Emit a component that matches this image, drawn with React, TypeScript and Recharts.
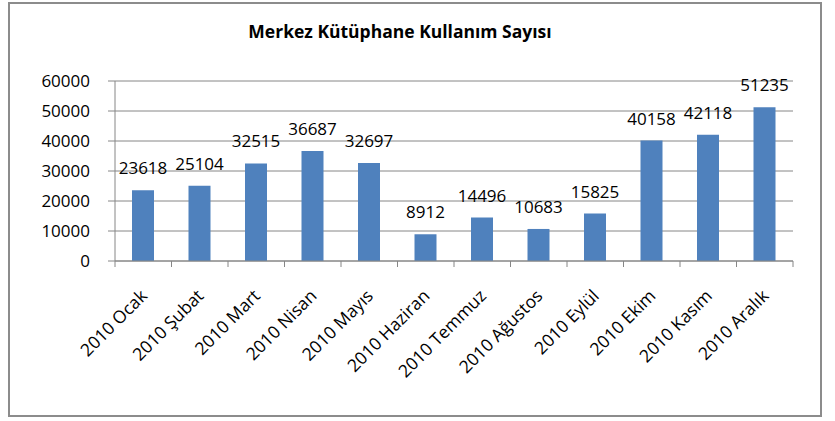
import React from 'react';
import { BarChart, Bar, XAxis, YAxis, CartesianGrid, LabelList } from 'recharts';

const categories = [
  '2010 Ocak', '2010 Şubat', '2010 Mart', '2010 Nisan', '2010 Mayıs', '2010 Haziran',
  '2010 Temmuz', '2010 Ağustos', '2010 Eylül', '2010 Ekim', '2010 Kasım', '2010 Aralık',
];
const usage = [23618, 25104, 32515, 36687, 32697, 8912, 14496, 10683, 15825, 40158, 42118, 51235];
const yTicks = [0, 10000, 20000, 30000, 40000, 50000, 60000];
const title = 'Merkez Kütüphane Kullanım Sayısı';

const data = categories.map((name, i) => ({ name, value: usage[i] }));

const FONT = '"Open Sans", sans-serif';
const AXIS_COLOR = '#868686';

const XTick = (props: any) => {
  const { x, y, payload, index } = props;
  const half = payload && typeof payload.offset === 'number' && payload.offset > 0 ? payload.offset : 28;
  const isLast = index === categories.length - 1;
  const ax = x + 5;
  const ay = y + 36;
  return (
    <g>
      <line x1={x - half} x2={x - half} y1={y} y2={y + 6} stroke={AXIS_COLOR} strokeWidth={1} />
      {isLast && <line x1={x + half} x2={x + half} y1={y} y2={y + 6} stroke={AXIS_COLOR} strokeWidth={1} />}
      <text
        x={ax}
        y={ay}
        transform={`rotate(-45, ${ax}, ${ay})`}
        textAnchor="end"
        fontSize={17.5}
        fontFamily={FONT}
        fill="#000"
      >
        {payload.value}
      </text>
    </g>
  );
};

export default function App() {
  return (
    <div style={{ position: 'absolute', left: 0, top: 0, width: 835, height: 421, background: '#fff' }}>
      <div
        style={{
          position: 'absolute',
          left: 8,
          top: 2,
          width: 814,
          height: 415,
          border: '2px solid #8c8c8c',
          boxSizing: 'border-box',
        }}
      />
      <div
        style={{
          position: 'absolute',
          left: 150,
          top: 19,
          width: 500,
          textAlign: 'center',
          fontFamily: FONT,
          fontWeight: 700,
          fontSize: 17.5,
          lineHeight: '24px',
          color: '#000',
        }}
      >
        {title}
      </div>
      <div style={{ position: 'absolute', left: 0, top: 0 }}>
        <BarChart
          width={835}
          height={421}
          data={data}
          margin={{ top: 81, right: 42, left: 55, bottom: 60 }}
        >
          <CartesianGrid vertical={false} stroke={AXIS_COLOR} strokeWidth={1} />
          <XAxis
            dataKey="name"
            interval={0}
            height={100}
            tickLine={false}
            tickSize={0}
            tickMargin={0}
            axisLine={{ stroke: AXIS_COLOR, strokeWidth: 1 }}
            tick={<XTick />}
          />
          <YAxis
            width={60}
            domain={[0, 60000]}
            ticks={yTicks}
            interval={0}
            tickSize={7}
            tickMargin={18}
            tickLine={{ stroke: AXIS_COLOR }}
            axisLine={{ stroke: AXIS_COLOR, strokeWidth: 1 }}
            tick={{ fontSize: 17, fontFamily: FONT, fill: '#000' }}
          />
          <Bar dataKey="value" fill="#4F81BD" barSize={22} isAnimationActive={false}>
            <LabelList
              dataKey="value"
              position="top"
              offset={16}
              fontSize={17}
              fontFamily={FONT}
              fill="#000"
            />
          </Bar>
        </BarChart>
      </div>
    </div>
  );
}
